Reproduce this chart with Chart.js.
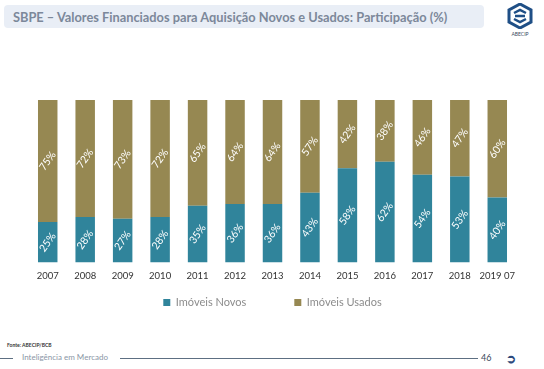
<!DOCTYPE html>
<html>
<head>
<meta charset="utf-8">
<script src="https://cdn.jsdelivr.net/npm/chart.js@4"></script>
<style>
  body { margin: 0; width: 544px; height: 369px; background: #fff; position: relative; overflow: hidden; font-family: Lato, "Open Sans", sans-serif; }
  .title-bar { position: absolute; left: 4px; top: 5px; width: 480px; height: 23px; background: #e9eef6; border-radius: 4px; }
  .title-bar span { position: absolute; left: 9px; top: 4px; font-size: 12.8px; font-weight: bold; color: #7c889a; white-space: nowrap; }
  .logo { position: absolute; left: 502px; top: 3px; width: 36px; text-align: center; }
  .logo div { font-size: 5px; color: #3b4a5c; margin-top: -1px; }
  #wrap { position: absolute; left: 0; top: 88px; width: 544px; height: 230px; }
  .source { position: absolute; left: 7px; top: 342px; font-size: 5px; font-weight: bold; color: #333; }
  .footline { position: absolute; top: 358px; height: 1px; background: #5d6f82; }
  .foottext { position: absolute; left: 22px; top: 352px; font-size: 8px; color: #8a96a6; }
  .page { position: absolute; left: 481px; top: 352px; font-size: 9px; color: #3b4a5c; }
  .arrow { position: absolute; left: 506px; top: 351px; font-size: 12px; font-weight: bold; color: #2c4a7c; }
</style>
</head>
<body>
<div class="title-bar"><span>SBPE – Valores Financiados para Aquisição Novos e Usados: Participação (%)</span></div>
<div class="logo">
  <svg width="26" height="26" viewBox="0 0 26 26">
    <polygon points="13,1 24,7 24,19 13,25 2,19 2,7" fill="none" stroke="#1f4f86" stroke-width="3"/>
    <path d="M7 10 L13 7 L19 10 M7 16 L13 19 L19 16 M8 13 L18 13" stroke="#1f4f86" stroke-width="2.5" fill="none"/>
  </svg>
  <div>ABECIP</div>
</div>
<div id="wrap"><canvas id="chart"></canvas></div>
<div class="source">Fonte: ABECIP/BCB</div>
<div class="footline" style="left:0;width:13px"></div>
<div class="foottext">Inteligência em Mercado</div>
<div class="footline" style="left:120px;width:358px"></div>
<div class="page">46</div>
<div class="arrow">➲</div>
<script>
const categories = ['2007', '2008', '2009', '2010', '2011', '2012', '2013', '2014', '2015', '2016', '2017', '2018', '2019 07'];
const novos = [25, 28, 27, 28, 35, 36, 36, 43, 58, 62, 54, 53, 40];
const usados = [75, 72, 73, 72, 65, 64, 64, 57, 42, 38, 46, 47, 60];

// draw the rotated % labels in the middle of each segment
const segLabels = {
  id: 'segLabels',
  afterDatasetsDraw(chart) {
    const ctx = chart.ctx;
    chart.data.datasets.forEach((ds, i) => {
      const meta = chart.getDatasetMeta(i);
      meta.data.forEach((bar, j) => {
        const cy = (bar.y + bar.base) / 2;
        ctx.save();
        ctx.translate(bar.x, cy);
        ctx.rotate(-55 * Math.PI / 180);
        ctx.font = '10.5px Lato, sans-serif';
        ctx.fillStyle = '#ffffff';
        ctx.textAlign = 'center';
        ctx.textBaseline = 'middle';
        ctx.fillText(ds.data[j] + '%', 0, 0);
        ctx.restore();
      });
    });
  }
};

new Chart(document.getElementById('chart'), {
  type: 'bar',
  data: {
    labels: categories,
    datasets: [
      { label: 'Imóveis Novos', data: novos, backgroundColor: '#30849b', barPercentage: 0.52, categoryPercentage: 1 },
      { label: 'Imóveis Usados', data: usados, backgroundColor: '#968852', barPercentage: 0.52, categoryPercentage: 1 }
    ]
  },
  options: {
    responsive: true,
    maintainAspectRatio: false,
    animation: false,
    layout: { padding: { left: 29, right: 28, top: 12, bottom: 0 } },
    plugins: {
      tooltip: { enabled: false },
      legend: {
        position: 'bottom',
        labels: {
          boxWidth: 7, boxHeight: 7, padding: 15,
          color: '#8c8c8c',
          font: { family: 'Lato, sans-serif', size: 11 },
          generateLabels(chart) {
            const items = Chart.defaults.plugins.legend.labels.generateLabels(chart);
            // widen the gap between the two entries
            items[0].text = items[0].text + '\u2003\u2003\u2003\u2003';
            return items;
          }
        }
      }
    },
    scales: {
      x: {
        stacked: true,
        grid: { display: false },
        border: { display: false },
        ticks: { color: '#333', font: { family: 'Lato, sans-serif', size: 9.5 }, padding: 0, maxRotation: 0, autoSkip: false }
      },
      y: { stacked: true, display: false, min: 0, max: 100 }
    }
  },
  plugins: [segLabels]
});
</script>
</body>
</html>
